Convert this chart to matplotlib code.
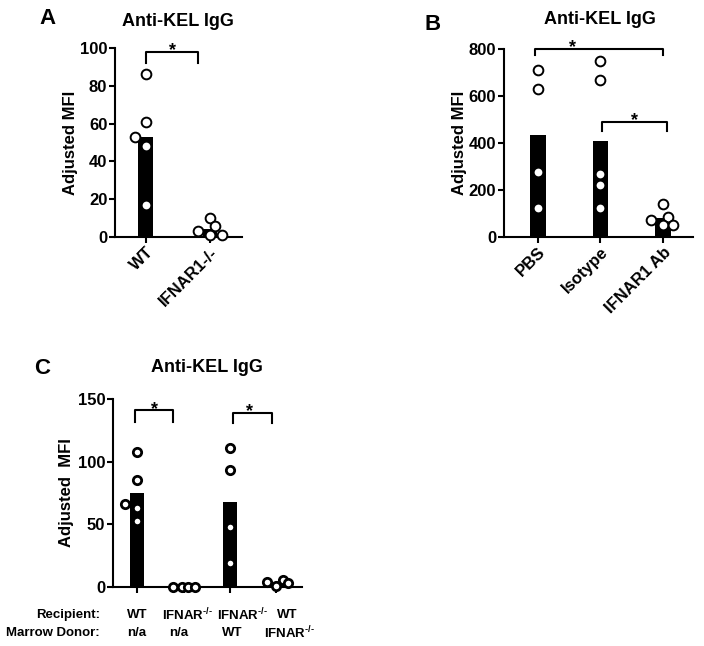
import numpy as np
import matplotlib
matplotlib.use('Agg')
import matplotlib.pyplot as plt

plt.rcParams['font.family'] = ['Liberation Sans', 'DejaVu Sans']
plt.rcParams['font.weight'] = 'bold'
plt.rcParams['mathtext.fontset'] = 'custom'
plt.rcParams['mathtext.rm'] = 'Liberation Sans:bold'
plt.rcParams['mathtext.default'] = 'rm'

# Panel A data
a_groups = ['WT', 'IFNAR1-/-']
a_bar = [53, 4.2]
a_points = [[86, 61, 53, 48, 17], [10, 6, 3, 1, 1]]
a_jitter = [[0, 0, -0.17, 0, 0], [0, 0.08, -0.19, 0, 0.19]]

# Panel B data
b_groups = ['PBS', 'Isotype', 'IFNAR1 Ab']
b_bar = [436, 407, 80]
b_points = [[712, 628, 278, 125], [750, 670, 270, 222, 122], [140, 85, 72, 51, 51]]
b_jitter = [[0, 0, 0, 0], [0, 0, 0, 0, 0], [0, 0.08, -0.19, 0, 0.16]]

# Panel C data
c_bar = [75, 0, 68, 3]
c_points = [[108, 85, 66, 63, 53], [0, 0, 0, 0], [111, 93, 48, 19], [4, 1, 5.5, 3]]
c_jitter = [[0, 0, -0.26, 0, 0], [-0.23, -0.03, 0.10, 0.25], [0, 0, 0, 0], [-0.2, 0, 0.14, 0.25]]
ko = 'IFNAR$^{\u2010/\u2010}$'
c_recipient = ['WT', ko, ko, 'WT']
c_donor = ['n/a', 'n/a', 'WT', ko]

W, H = 704, 646
fig = plt.figure(figsize=(W / 100, H / 100), dpi=100)


def px_axes(left, right, top, bottom):
    return fig.add_axes([left / W, 1 - bottom / H, (right - left) / W, (bottom - top) / H])


def style(ax):
    for s in ['top', 'right']:
        ax.spines[s].set_visible(False)
    for s in ['left', 'bottom']:
        ax.spines[s].set_linewidth(1.5)
    ax.tick_params(direction='out', length=4, width=1.5, labelsize=12, pad=1.5)
    for lab in ax.get_yticklabels():
        lab.set_fontweight('bold')


def draw(ax, bars, points, jitter, width, ms, mew):
    x = np.arange(len(bars))
    ax.bar(x, bars, width=width, color='black', zorder=2)
    for i, (pts, jit) in enumerate(zip(points, jitter)):
        ax.plot(i + np.array(jit), pts, 'o', ms=ms, mfc='white', mec='black',
                mew=mew, clip_on=False, zorder=3)
    ax.set_xticks(x)


def bracket(ax, x0, x1, ylow, yhigh, xs, fs=13):
    ax.plot([x0, x0, x1, x1], [ylow, yhigh, yhigh, ylow], color='black', lw=1.5, clip_on=False)
    ax.annotate('*', (xs, yhigh), xytext=(0, -2.5), textcoords='offset points',
                ha='center', va='baseline', fontsize=fs, fontweight='bold', annotation_clip=False)


# Panel A
axA = px_axes(115, 242, 48, 237)
draw(axA, a_bar, a_points, a_jitter, 0.23, 7, 1.4)
axA.set_xlim(-0.48, 1.5)
axA.set_ylim(0, 100)
axA.set_yticks([0, 20, 40, 60, 80, 100])
axA.set_xticklabels(a_groups, rotation=45, ha='right', rotation_mode='anchor', fontweight='bold')
axA.set_ylabel('Adjusted MFI', fontsize=12, fontweight='bold', labelpad=1)
style(axA)
bracket(axA, 0, 0.81, 92, 98, 0.41)
fig.text(178 / W, 1 - 21 / H, 'Anti-KEL IgG', ha='center', va='center', fontsize=13, fontweight='bold')
fig.text(48 / W, 1 - 18 / H, 'A', ha='center', va='center', fontsize=16, fontweight='bold')

# Panel B
axB = px_axes(504, 693, 49, 237)
draw(axB, b_bar, b_points, b_jitter, 0.25, 7, 1.4)
axB.set_xlim(-0.54, 2.48)
axB.set_ylim(0, 800)
axB.set_yticks([0, 200, 400, 600, 800])
axB.set_xticklabels(b_groups, rotation=45, ha='right', rotation_mode='anchor', fontweight='bold')
axB.set_ylabel('Adjusted MFI', fontsize=12, fontweight='bold', labelpad=1)
style(axB)
bracket(axB, -0.05, 2.0, 775, 800, 0.56)
bracket(axB, 1.02, 2.06, 452, 489, 1.55)
fig.text(600 / W, 1 - 20 / H, 'Anti-KEL IgG', ha='center', va='center', fontsize=13, fontweight='bold')
fig.text(433 / W, 1 - 24 / H, 'B', ha='center', va='center', fontsize=16, fontweight='bold')

# Panel C
axC = px_axes(113, 302, 399, 587)
draw(axC, c_bar, c_points, c_jitter, 0.31, 6, 2.0)
axC.set_xlim(-0.52, 3.55)
axC.set_ylim(0, 150)
axC.set_yticks([0, 50, 100, 150])
axC.set_xticklabels([])
axC.set_ylabel('Adjusted  MFI', fontsize=12, fontweight='bold', labelpad=3)
style(axC)
bracket(axC, -0.04, 0.77, 132, 141, 0.37)
bracket(axC, 2.06, 2.9, 131, 139, 2.41)
fig.text(207 / W, 1 - 368 / H, 'Anti-KEL IgG', ha='center', va='center', fontsize=13, fontweight='bold')
fig.text(42 / W, 1 - 368 / H, 'C', ha='center', va='center', fontsize=16, fontweight='bold')

row1_x = [137, 188, 243, 287]
row2_x = [137, 179, 232, 290]
fig.text(100 / W, 1 - 615 / H, 'Recipient:', ha='right', va='center', fontsize=9.5, fontweight='bold')
fig.text(100 / W, 1 - 633 / H, 'Marrow Donor:', ha='right', va='center', fontsize=9.5, fontweight='bold')
for xp, t in zip(row1_x, c_recipient):
    fig.text(xp / W, 1 - 615 / H, t, ha='center', va='center', fontsize=9.5, fontweight='bold')
for xp, t in zip(row2_x, c_donor):
    fig.text(xp / W, 1 - 633 / H, t, ha='center', va='center', fontsize=9.5, fontweight='bold')

fig.savefig('out.png', dpi=100, facecolor='white')
